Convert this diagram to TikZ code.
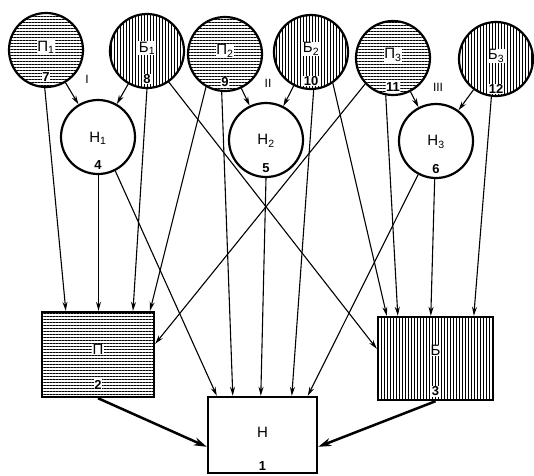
\documentclass[tikz,border=0pt]{standalone}
\usepackage{fontspec}
\setmainfont{Liberation Sans}
\usetikzlibrary{arrows.meta,patterns.meta}
\begin{document}
\begin{tikzpicture}[x=1pt,y=-1pt,
  circ/.style={circle,draw,line width=2.2pt,minimum size=74pt,inner sep=0pt},
  hfill/.style={pattern={Lines[angle=0,distance=3pt,line width=0.9pt]}},
  vfill/.style={pattern={Lines[angle=90,distance=3pt,line width=0.9pt]}},
  boxn/.style={rectangle,draw,line width=2.4pt,inner sep=0pt},
  lbl/.style={font=\fontsize{15}{15}\selectfont,inner sep=0.6pt},
  num/.style={font=\fontsize{13}{13}\selectfont\bfseries,inner sep=0.6pt},
  wbg/.style={fill=white},
  rom/.style={font=\fontsize{12}{12}\selectfont,inner sep=0pt},
  conn/.style={line width=1.1pt,-{Stealth[length=9pt,width=5pt]}},
  bigconn/.style={line width=2.5pt,-{Stealth[length=13pt,width=8pt]}}
]
\useasboundingbox (0,0) rectangle (534,475);

% top circles
\node[circ,hfill] (P1) at (46,50) {};
\node[circ,vfill] (B1) at (147,51) {};
\node[circ,hfill] (P2) at (225,54) {};
\node[circ,vfill] (B2) at (311,52) {};
\node[circ,hfill] (P3) at (393,58) {};
\node[circ,vfill] (B3) at (496,59) {};
% middle circles
\node[circ] (N1) at (98,137) {};
\node[circ] (N2) at (266,140) {};
\node[circ] (N3) at (436,141) {};
% boxes
\node[boxn,hfill,minimum width=112pt,minimum height=85pt] (PB) at (98,354.5) {};
\node[boxn,vfill,minimum width=115pt,minimum height=83pt] (BB) at (435.5,358.5) {};
\node[boxn,minimum width=109pt,minimum height=76pt] (NB) at (262.5,435) {};

% labels in circles
\node[lbl,wbg] (P1l) at ([yshift=3pt]P1.center) {П\textsubscript{1}};
\node[lbl,wbg] (B1l) at ([yshift=3pt]B1.center) {Б\textsubscript{1}};
\node[lbl,wbg] (P2l) at ([yshift=3pt]P2.center) {П\textsubscript{2}};
\node[lbl,wbg] (B2l) at ([yshift=3pt]B2.center) {Б\textsubscript{2}};
\node[lbl,wbg] (P3l) at ([yshift=3pt]P3.center) {П\textsubscript{3}};
\node[lbl,wbg] (B3l) at ([yshift=3pt]B3.center) {Б\textsubscript{3}};
\node[num,wbg] (P1n) at ([yshift=-27pt]P1.center) {7};
\node[num,wbg] (B1n) at ([yshift=-28pt]B1.center) {8};
\node[num,wbg] (P2n) at ([yshift=-28pt]P2.center) {9};
\node[num,wbg] (B2n) at ([yshift=-29pt]B2.center) {10};
\node[num,wbg] (P3n) at ([yshift=-29pt]P3.center) {11};
\node[num,wbg] (B3n) at ([yshift=-30pt]B3.center) {12};

\node[lbl] (N1l) at ([yshift=-1pt]N1.center) {Н\textsubscript{1}};
\node[lbl] (N2l) at ([yshift=-1pt]N2.center) {Н\textsubscript{2}};
\node[lbl] (N3l) at ([yshift=-1pt]N3.center) {Н\textsubscript{3}};
\node[num] (N1n) at ([yshift=-28pt]N1.center) {4};
\node[num] (N2n) at ([yshift=-28pt]N2.center) {5};
\node[num] (N3n) at ([yshift=-28pt]N3.center) {6};

% labels in boxes
\node[lbl,wbg] (PBl) at ([yshift=5pt]PB.center) {П};
\node[num,wbg] (PBn) at ([yshift=-30pt]PB.center) {2};
\node[lbl,wbg] (BBl) at ([yshift=8pt]BB.center) {Б};
\node[num,wbg] (BBn) at ([yshift=-33pt]BB.center) {3};
\node[lbl] (NBl) at ([yshift=3pt]NB.center) {Н};
\node[num] (NBn) at ([yshift=-31pt]NB.center) {1};

% roman numerals
\node[rom] (r1) at (87,79) {I};
\node[rom] (r2) at (268,83) {II};
\node[rom] (r3) at (438,87) {III};

% short arrows into middle circles
\draw[conn] (P1) -- (N1);
\draw[conn] (B1) -- (N1);
\draw[conn] (P2) -- (N2);
\draw[conn] (B2) -- (N2);
\draw[conn] (P3) -- (N3);
\draw[conn] (B3) -- (N3);

% into box P
\draw[conn] (P1.268) -- ([xshift=25pt]PB.north west);
\draw[conn] ([xshift=0.5pt]N1.270) -- ([xshift=0.5pt]PB.north);
\draw[conn] (B1.270) -- ([xshift=35pt]PB.north);
\draw[conn] (P2.240) -- ([xshift=52pt]PB.north);
\draw[conn] (P3.223) -- ([yshift=-33pt]PB.north east);

% into box B
\draw[conn] (B1.305) -- ([yshift=-33pt]BB.north west);
\draw[conn] (B2.305) -- ([xshift=10pt]BB.north west);
\draw[conn] (P3.259) -- ([xshift=21pt]BB.north west);
\draw[conn] (N3.268) -- ([xshift=54pt]BB.north west);
\draw[conn] (B3.263) -- ([xshift=97pt]BB.north west);

% into box N
\draw[conn] (N1.297) -- ([xshift=10pt]NB.north west);
\draw[conn] (P2.265) -- ([xshift=26pt]NB.north west);
\draw[conn] (N2.270) -- ([xshift=54pt]NB.north west);
\draw[conn] (B2.274) -- ([xshift=85pt]NB.north west);
\draw[conn] (N3.242) -- ([xshift=101pt]NB.north west);

% thick arrows
\draw[bigconn] (PB.south) -- ([yshift=-51pt]NB.north west);
\draw[bigconn] (BB.south) -- ([yshift=-51pt]NB.north east);
\end{tikzpicture}
\end{document}
